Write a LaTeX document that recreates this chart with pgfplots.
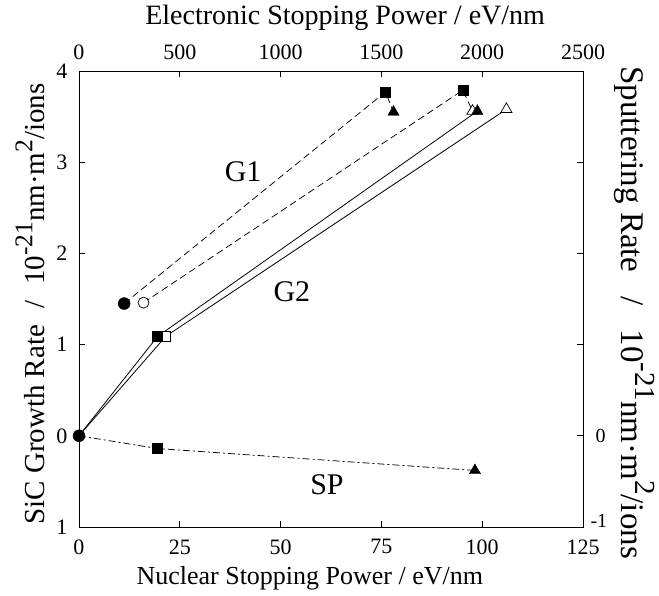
\documentclass[border=0pt]{standalone}
\usepackage{fontspec}
\setmainfont{Liberation Serif}
\usepackage{pgfplots}
\pgfplotsset{compat=1.18}
\newcommand{\units}{10\raisebox{0.42em}{\fontsize{0.88em}{1em}\selectfont -21}nm·m\raisebox{0.42em}{\fontsize{0.88em}{1em}\selectfont 2}/ions}
\begin{document}
\begin{tikzpicture}
\pgfplotsset{
  every axis/.append style={
    scale only axis, width=504pt, height=456pt,
    at={(0,0)}, anchor=south west,
    ymin=-1, ymax=4,
    axis line style={line width=0.8pt},
    major tick style={line width=0.8pt, black},
    major tick length=6pt,
    tick align=inside,
    /pgf/number format/assume math mode=true,
    /pgf/number format/1000 sep={},
  }
}
% top / right axes
\begin{axis}[
  xmin=0, xmax=2500,
  xtick={0,500,...,2500},
  xtick pos=right, xticklabel pos=right,
  ytick={-1,0,1,2,3,4},
  yticklabels={{\raisebox{12pt}{-1}},{\hspace*{5pt}\raisebox{-6pt}{0}},{},{},{},{}},
  ytick pos=right, yticklabel pos=right,
  xticklabel style={font=\fontsize{22}{24}\selectfont, yshift=8pt},
  yticklabel style={font=\fontsize{20}{22}\selectfont, xshift=4pt},
  xlabel={Electronic Stopping Power / eV/nm},
  every axis x label/.style={at={(axis description cs:0.528,1.116)}, anchor=center,
    font=\fontsize{28}{30}\selectfont},
  ylabel={Sputtering Rate\hspace{24pt}/\hspace{24pt}\units},
  every axis y label/.style={at={(axis description cs:1.103,0.47)}, anchor=center,
    rotate=-90, font=\fontsize{33}{35}\selectfont},
]
\end{axis}
% main axes
\begin{axis}[
  xmin=0, xmax=125,
  xtick={0,25,...,125},
  xtick pos=left,
  ytick={-1,0,1,2,3,4},
  yticklabels={1,0,1,2,3,4},
  ytick pos=left,
  xticklabel style={font=\fontsize{22}{24}\selectfont, yshift=-9pt},
  yticklabel style={font=\fontsize{22}{24}\selectfont, xshift=-8pt},
  xlabel={Nuclear Stopping Power / eV/nm},
  every axis x label/.style={at={(axis description cs:0.458,-0.112)}, anchor=center,
    font=\fontsize{26}{28}\selectfont},
  ylabel={SiC Growth Rate\hspace{16pt}/\hspace{16pt}\units},
  every axis y label/.style={at={(axis description cs:-0.097,0.489)}, anchor=center,
    rotate=90, font=\fontsize{29}{31}\selectfont},
  clip=false,
]
% lines
\addplot[black, line width=0.75pt, dash pattern=on 7pt off 4pt] coordinates {(11.2,1.45) (76.0,3.77) (78.0,3.55)};
\addplot[black, line width=0.75pt, dash pattern=on 7pt off 4pt] coordinates {(16.0,1.46) (95.2,3.79) (97.6,3.56)};
\addplot[black, line width=0.8pt] coordinates {(0,0) (19.5,1.09) (98.8,3.56)};
\addplot[black, line width=0.8pt] coordinates {(0,0) (21.5,1.09) (106.0,3.58)};
\addplot[black, line width=0.75pt, dash pattern=on 7pt off 3pt on 2pt off 3pt] coordinates {(0,0) (19.5,-0.14) (98.2,-0.38)};
% open marks
\addplot[only marks, mark=*, mark size=5.5pt, mark options={draw=black, fill=white, line width=0.7pt}] coordinates {(16.0,1.46)};
\addplot[only marks, mark=square*, mark size=5pt, mark options={draw=black, fill=white, line width=0.7pt}] coordinates {(21.5,1.09)};
\addplot[only marks, mark=triangle*, mark size=6.5pt, mark options={draw=black, fill=white, line width=0.7pt}] coordinates {(97.6,3.56) (106.0,3.58)};
% filled marks
\addplot[only marks, mark=*, mark size=6pt, black] coordinates {(0,0) (11.2,1.45)};
\addplot[only marks, mark=square*, mark size=5pt, black] coordinates {(19.5,1.09) (76.0,3.77) (95.2,3.79) (19.5,-0.14)};
\addplot[only marks, mark=triangle*, mark size=6.5pt, black] coordinates {(78.0,3.55) (98.8,3.56) (98.2,-0.38)};
% labels
\node[font=\fontsize{30}{32}\selectfont] at (axis cs:40.7,2.9) {G1};
\node[font=\fontsize{30}{32}\selectfont] at (axis cs:52.8,1.58) {G2};
\node[font=\fontsize{30}{32}\selectfont] at (axis cs:61.5,-0.54) {SP};
\end{axis}
\pgfresetboundingbox
\path (-79pt,-69pt) rectangle (580pt,527pt);
\end{tikzpicture}
\end{document}
